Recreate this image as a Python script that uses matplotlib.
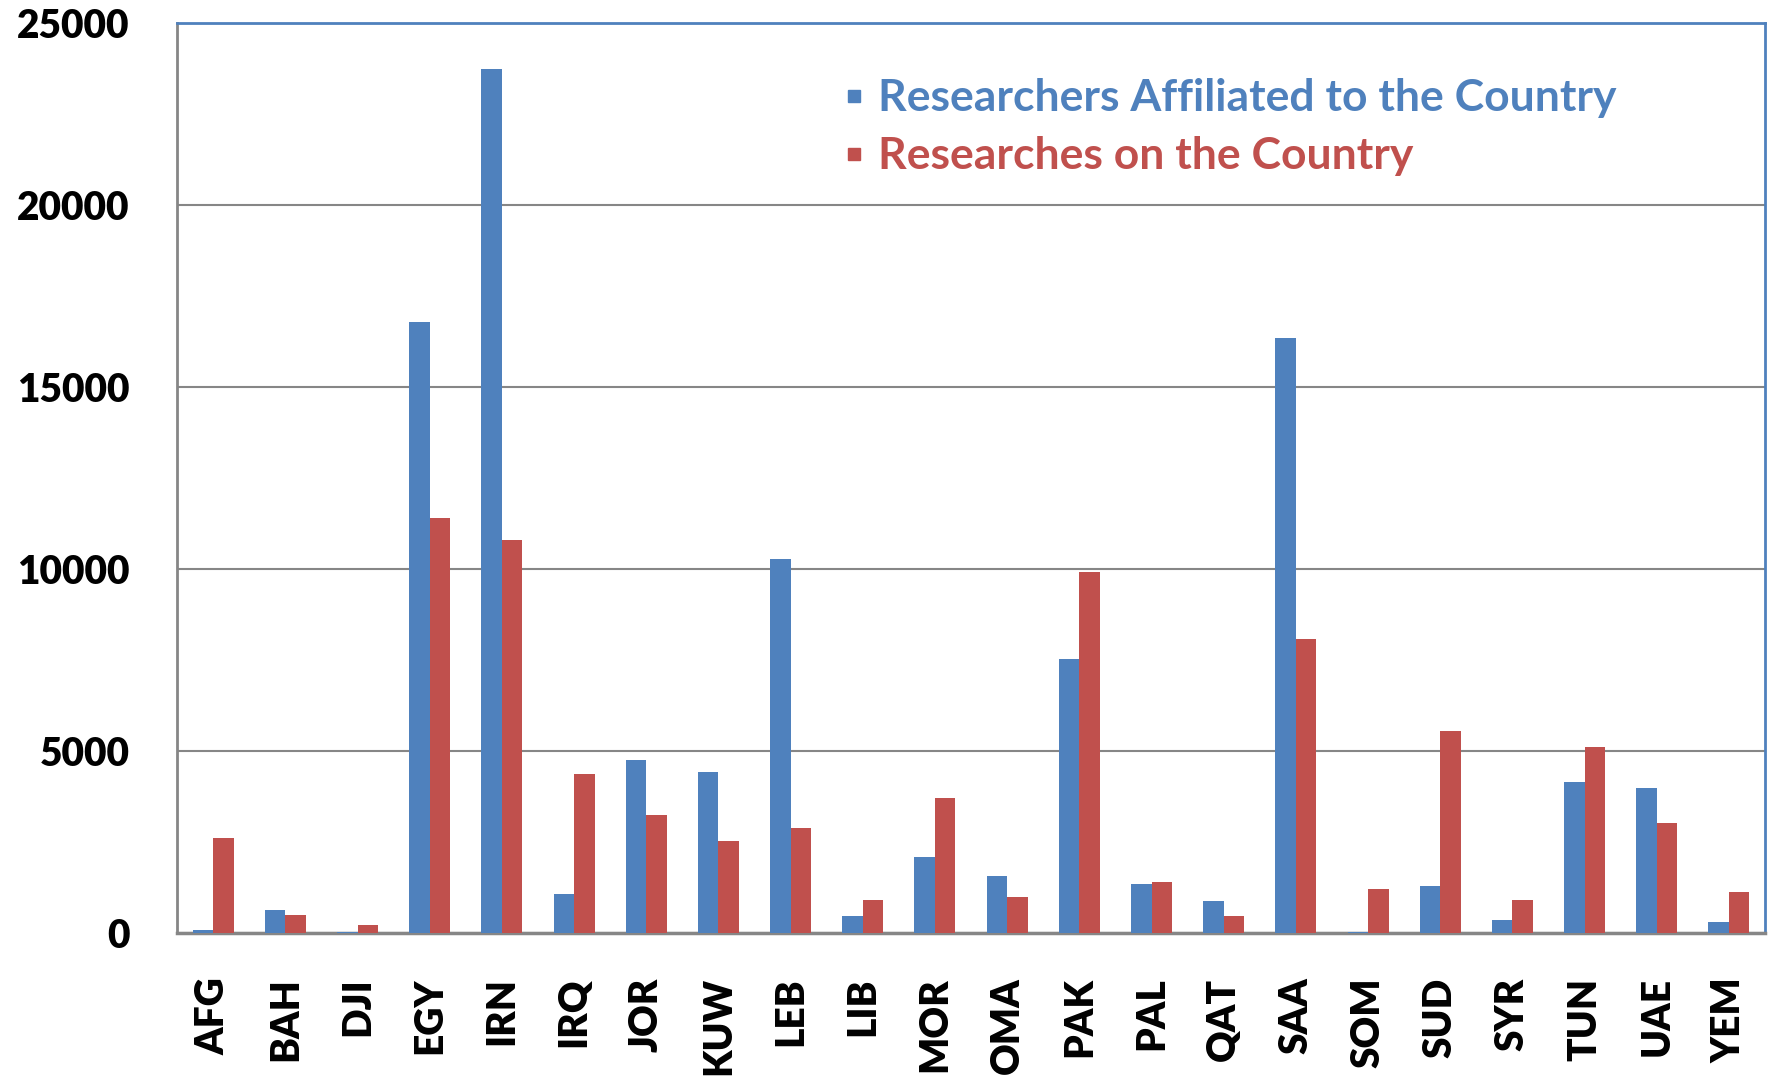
import numpy as np
import matplotlib.pyplot as plt
from matplotlib.lines import Line2D

# 数据
countries = ['AFG', 'BAH', 'DJI', 'EGY', 'IRN', 'IRQ', 'JOR', 'KUW', 'LEB', 'LIB', 'MOR',
             'OMA', 'PAK', 'PAL', 'QAT', 'SAA', 'SOM', 'SUD', 'SYR', 'TUN', 'UAE', 'YEM']
affiliated = [80, 620, 40, 16800, 23750, 1060, 4740, 4430, 10270, 470, 2090,
              1560, 7520, 1340, 870, 16350, 30, 1280, 370, 4150, 3990, 310]
on_country = [2600, 500, 220, 11400, 10800, 4370, 3240, 2530, 2880, 900, 3720,
              1000, 9920, 1400, 470, 8080, 1215, 5550, 900, 5120, 3020, 1120]
series_names = ['Researchers Affiliated to the Country', 'Researches on the Country']

blue = '#4F81BD'
red = '#C0504D'
grey = '#868686'

plt.rcParams['font.family'] = ['Lato', 'DejaVu Sans']

fig = plt.figure(figsize=(17.78, 10.81), dpi=100)
ax = fig.add_axes([0.0996, 0.1369, 0.8931, 0.8418])

x = np.arange(len(countries))
w = 0.284
ax.bar(x - w / 2, affiliated, width=w, color=blue, zorder=3)
ax.bar(x + w / 2, on_country, width=w, color=red, zorder=3)

ax.set_xlim(-0.5, len(countries) - 0.5)
ax.set_ylim(0, 25000)
ax.set_yticks(range(0, 25001, 5000))
ax.set_xticks(x)
ax.set_xticklabels(countries, rotation=90, fontsize=28, fontweight='heavy')
for lab in ax.get_yticklabels():
    lab.set_fontsize(28)
    lab.set_fontweight('heavy')
ax.tick_params(axis='both', length=0)
ax.tick_params(axis='x', pad=32)
ax.tick_params(axis='y', pad=34)

ax.yaxis.grid(True, color=grey, linewidth=1.5, zorder=0)
ax.spines['left'].set_color(grey)
ax.spines['bottom'].set_color(grey)
ax.spines['left'].set_linewidth(2)
ax.spines['bottom'].set_linewidth(2.5)
ax.spines['top'].set_color(blue)
ax.spines['right'].set_color(blue)
ax.spines['top'].set_linewidth(2)
ax.spines['right'].set_linewidth(2)

handles = [Line2D([], [], linestyle='none', marker='s', markersize=9, color=c) for c in [blue, red]]
leg = ax.legend(handles, series_names, loc='upper left', bbox_to_anchor=(0.394, 0.983), frameon=False,
                prop={'size': 32, 'weight': 'bold'}, handlelength=0.5,
                handletextpad=0.3, labelspacing=0.4)
for txt, c in zip(leg.get_texts(), [blue, red]):
    txt.set_color(c)

plt.savefig('out.png', dpi=100)
plt.close()
